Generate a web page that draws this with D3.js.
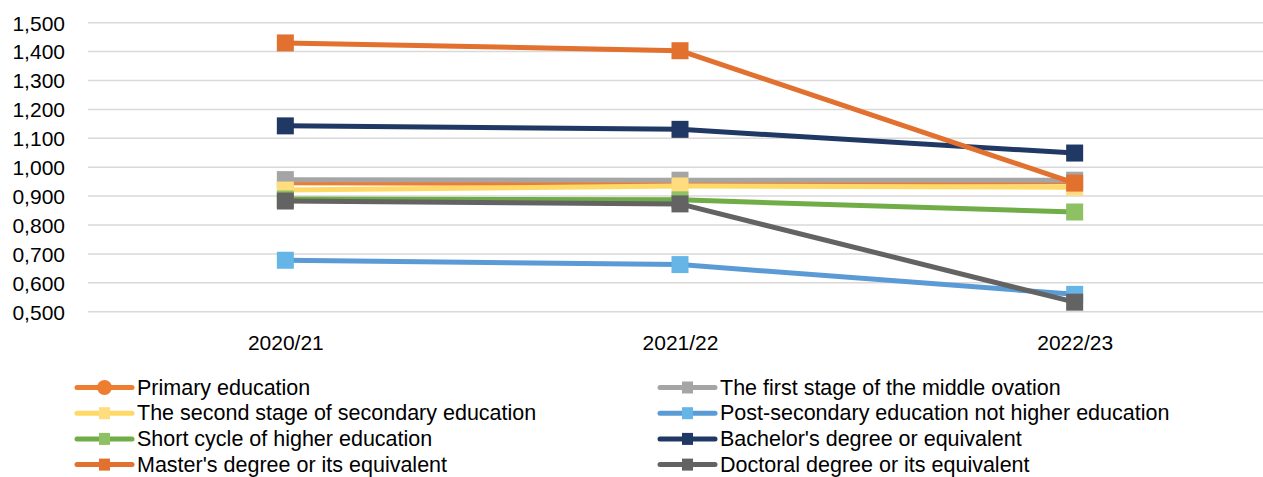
<!DOCTYPE html>
<html>
<head>
<meta charset="utf-8">
<script src="https://cdn.jsdelivr.net/npm/d3@7/dist/d3.min.js"></script>
<style>
  html, body { margin: 0; padding: 0; background: #fff; }
  svg text { font-family: "Liberation Sans", Arial, sans-serif; fill: #000; }
</style>
</head>
<body>
<svg id="chart" width="1263" height="477"></svg>
<script>
// ---- data ----
const categories = ["2020/21", "2021/22", "2022/23"];
const yTicks = [500, 600, 700, 800, 900, 1000, 1100, 1200, 1300, 1400, 1500];
const seriesNames = [
  "Primary education",
  "The first stage of the middle ovation",
  "The second stage of secondary education",
  "Post-secondary education not higher education",
  "Short cycle of higher education",
  "Bachelor's degree or equivalent",
  "Master's degree or its equivalent",
  "Doctoral degree or its equivalent"
];
const primary      = [946, 944, 950];
const firstStage   = [957, 955, 955];
const secondStage  = [921, 935, 931];
const postSec      = [678, 663, 560];
const shortCycle   = [890, 887, 845];
const bachelor     = [1143, 1131, 1049];
const master       = [1430, 1403, 945];
const doctoral     = [883, 873, 533];
const seriesValues = [primary, firstStage, secondStage, postSec, shortCycle, bachelor, master, doctoral];

// ---- styles ----
const lineColors   = ["#ED7D31", "#A5A5A5", "#FFD966", "#5B9BD5", "#70AD47", "#203864", "#E2702F", "#636363"];
const markerColors = ["#ED7D31", "#A5A5A5", "#FFDC7E", "#65B6E6", "#8DC163", "#203864", "#E2702F", "#636363"];
const markerShapes = ["circle", "square", "square", "square", "square", "square", "square", "square"];

const svg = d3.select("#chart");
const W = 1263;
const plot = { left: 88, right: 1272, top: 22.7, bottom: 311.7 };

const x = d3.scalePoint().domain(categories).range([plot.left, plot.right]).padding(0.5);
const y = d3.scaleLinear().domain([500, 1500]).range([plot.bottom, plot.top]);

const fmt = v => v < 1000 ? "0," + String(v).padStart(3, "0") : d3.format(",")(v);

// gridlines
svg.append("g").selectAll("line").data(yTicks).join("line")
  .attr("x1", plot.left).attr("x2", W)
  .attr("y1", d => y(d)).attr("y2", d => y(d))
  .attr("stroke", "#D9D9D9").attr("stroke-width", 1.5);

// y axis labels
const yAxis = d3.axisLeft(y).tickValues(yTicks).tickSize(0).tickPadding(0).tickFormat(fmt);
const gy = svg.append("g").attr("transform", "translate(65,0)").call(yAxis);
gy.select(".domain").remove();
gy.selectAll("text").attr("font-size", 21).attr("font-family", "Liberation Sans, Arial, sans-serif")
  .attr("fill", "#000").attr("dy", "0.35em");

// x axis labels
const xAxis = d3.axisBottom(x).tickSize(0).tickPadding(0);
const gx = svg.append("g").attr("transform", "translate(0,343)").call(xAxis);
gx.select(".domain").remove();
gx.selectAll("text").attr("font-size", 21).attr("font-family", "Liberation Sans, Arial, sans-serif")
  .attr("fill", "#000").attr("dy", "0.35em");

// series
const line = d3.line().x((d, i) => x(categories[i])).y(d => y(d));
const MS = 17;
seriesValues.forEach((vals, si) => {
  const g = svg.append("g");
  g.append("path").datum(vals).attr("d", line)
    .attr("fill", "none").attr("stroke", lineColors[si]).attr("stroke-width", 5)
    .attr("stroke-linejoin", "round");
  if (markerShapes[si] === "circle") {
    g.selectAll("circle").data(vals).join("circle")
      .attr("cx", (d, i) => x(categories[i])).attr("cy", d => y(d)).attr("r", 8)
      .attr("fill", markerColors[si]);
  } else {
    g.selectAll("rect").data(vals).join("rect")
      .attr("x", (d, i) => x(categories[i]) - MS / 2).attr("y", d => y(d) - MS / 2)
      .attr("width", MS).attr("height", MS)
      .attr("fill", markerColors[si]);
  }
});

// legend
const legX = [77, 660];
const legY0 = 387.5, legDY = 25.7;
seriesNames.forEach((name, si) => {
  const col = si % 2, row = Math.floor(si / 2);
  const lx = legX[col], ly = legY0 + row * legDY;
  const g = svg.append("g");
  g.append("line").attr("x1", lx).attr("x2", lx + 55).attr("y1", ly).attr("y2", ly)
    .attr("stroke", lineColors[si]).attr("stroke-width", 5).attr("stroke-linecap", "round");
  if (markerShapes[si] === "circle") {
    g.append("circle").attr("cx", lx + 27.5).attr("cy", ly).attr("r", 7.5).attr("fill", markerColors[si]);
  } else {
    g.append("rect").attr("x", lx + 27.5 - 5.5).attr("y", ly - 6).attr("width", 11).attr("height", 12)
      .attr("fill", markerColors[si]);
  }
  g.append("text").attr("x", lx + 60).attr("y", ly).attr("dy", "0.33em")
    .attr("font-size", 21.5).text(name);
});
</script>
</body>
</html>
